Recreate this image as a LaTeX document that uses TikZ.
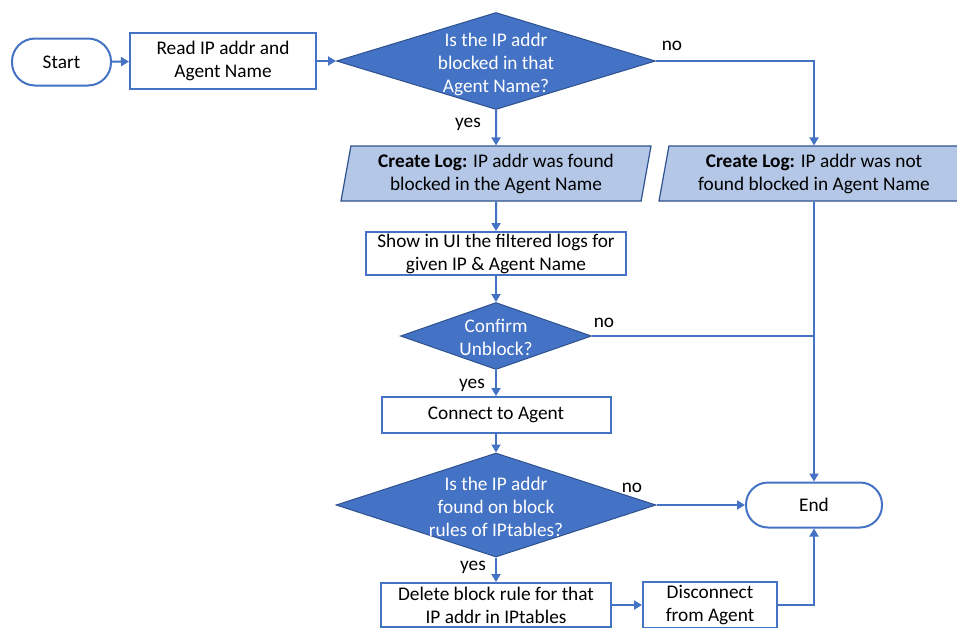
\documentclass[tikz,border=0pt]{standalone}
\usepackage{fontspec}
\setmainfont{Carlito}
\usetikzlibrary{shapes.geometric,arrows.meta}
\definecolor{obl}{HTML}{4472C4}
\definecolor{odk}{HTML}{2F528F}
\definecolor{olt}{HTML}{B4C7E7}
\begin{document}
\begin{tikzpicture}[x=1pt,y=-1pt,
  every node/.style={font=\fontsize{19.3}{23}\selectfont, inner sep=0pt},
  box/.style={draw=obl, line width=2pt, fill=white, align=center},
  term/.style={box},
  dec/.style={shape=diamond, draw=odk, fill=obl, line width=1pt},
  dectext/.style={text=white, align=center},
  io/.style={trapezium, trapezium left angle=76, trapezium right angle=104, trapezium stretches body, draw=odk, fill=olt, line width=1.2pt, align=center},
  conn/.style={draw=obl, line width=2pt},
  arr/.style={conn, -{Triangle[width=9pt,length=8pt]}},
  lbl/.style={text=black}
]
\useasboundingbox (0,0) rectangle (957,627);
\clip (0,0) rectangle (957,627);
\fill[white] (0,0) rectangle (957,627);

\node[term, rounded corners=23pt, minimum width=99pt, minimum height=47pt] (start) at (61.5,62) {Start};
\node[box, minimum width=186pt, minimum height=56pt] (read) at (223,61) {Read IP addr and\\Agent Name};
\node[dec, minimum width=319pt, minimum height=97pt] (d1) at (496,61) {};
\node[dectext] (d1t) at (496,64) {Is the IP addr\\blocked in that\\Agent Name?};

\node[io, minimum width=310pt, minimum height=55pt] (p1) at (496,173.5) {\textbf{Create Log:} IP addr was found\\blocked in the Agent Name};
\node[io, minimum width=310pt, minimum height=55pt] (p2) at (814,173.5) {\textbf{Create Log:} IP addr was not\\found blocked in Agent Name};

\node[box, minimum width=260pt, minimum height=43pt] (show) at (496,253.5) {Show in UI the filtered logs for\\given IP \& Agent Name};
\node[dec, minimum width=191pt, minimum height=67pt] (conf) at (496,336) {};
\node[dectext] (conft) at (496,337) {Confirm\\Unblock?};
\node[box, minimum width=229pt, minimum height=36pt] (connect) at (496,415) {Connect to Agent};
\node[dec, minimum width=320pt, minimum height=104pt] (d3) at (496,505) {};
\node[dectext] (d3t) at (496,507) {Is the IP addr\\found on block\\rules of IPtables?};
\node[box, minimum width=230pt, minimum height=44pt] (del) at (496,605) {Delete block rule for that\\IP addr in IPtables};
\node[box, minimum width=134pt, minimum height=46pt] (disc) at (710,605) {Disconnect\\from Agent};
\node[term, rounded corners=22pt, minimum width=136pt, minimum height=45pt] (end) at (814,505) {End};

\node[lbl] (no1) at (672,46) {no};
\node[lbl] (yes1) at (468,124) {yes};
\node[lbl] (no2) at (604,323) {no};
\node[lbl] (yes2) at (472,385) {yes};
\node[lbl] (no3) at (632,488) {no};
\node[lbl] (yes3) at (473,567) {yes};

\coordinate (j1) at (end.north |- conf.east);

\draw[arr] (start) -- (read);
\draw[arr] (read) -- (d1);
\draw[arr] (d1) -- (p1);
\draw[arr] (d1.east) -| (p2);
\draw[arr] (p1) -- (show);
\draw[arr] (show) -- (conf);
\draw[arr] (conf) -- (connect);
\draw[conn] (conf.east) -- (j1);
\draw[arr] (p2) -- (end);
\draw[arr] (connect) -- (d3);
\draw[arr] (d3) -- (end);
\draw[arr] (d3) -- (del);
\draw[arr] (del) -- (disc);
\draw[arr] (disc.east) -| (end);
\end{tikzpicture}
\end{document}
